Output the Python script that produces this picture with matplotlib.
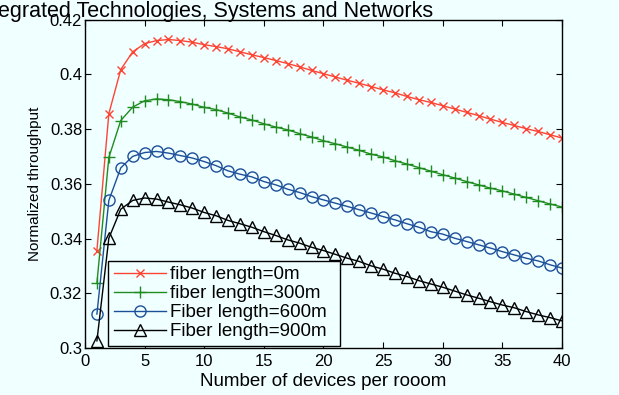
import matplotlib
matplotlib.use('Agg')
import matplotlib.pyplot as plt
from matplotlib.ticker import FuncFormatter

# devices per room
devices = list(range(1, 41))

# normalized throughput per fiber length
fiber_0m = [0.3356, 0.3856, 0.4017, 0.4082, 0.4112, 0.4123, 0.4127, 0.4123, 0.4117, 0.4108,
            0.4101, 0.4093, 0.4082, 0.4071, 0.4061, 0.4050, 0.4039, 0.4027, 0.4014, 0.4002,
            0.3990, 0.3978, 0.3967, 0.3955, 0.3943, 0.3932, 0.3919, 0.3907, 0.3897, 0.3885,
            0.3873, 0.3861, 0.3849, 0.3836, 0.3824, 0.3813, 0.3801, 0.3791, 0.3779, 0.3767]
fiber_300m = [0.3237, 0.3696, 0.3831, 0.3880, 0.3903, 0.3910, 0.3907, 0.3900, 0.3891, 0.3879,
              0.3871, 0.3858, 0.3844, 0.3833, 0.3819, 0.3807, 0.3797, 0.3783, 0.3771, 0.3757,
              0.3746, 0.3734, 0.3722, 0.3708, 0.3698, 0.3684, 0.3672, 0.3659, 0.3646, 0.3633,
              0.3621, 0.3608, 0.3596, 0.3584, 0.3574, 0.3562, 0.3550, 0.3538, 0.3526, 0.3515]
fiber_600m = [0.3124, 0.3539, 0.3658, 0.3700, 0.3714, 0.3718, 0.3712, 0.3703, 0.3694, 0.3681,
              0.3666, 0.3647, 0.3635, 0.3625, 0.3608, 0.3596, 0.3580, 0.3568, 0.3553, 0.3541,
              0.3529, 0.3517, 0.3505, 0.3493, 0.3480, 0.3468, 0.3454, 0.3441, 0.3425, 0.3416,
              0.3401, 0.3389, 0.3377, 0.3365, 0.3352, 0.3340, 0.3328, 0.3318, 0.3304, 0.3292]
fiber_900m = [0.3026, 0.3401, 0.3507, 0.3539, 0.3548, 0.3544, 0.3533, 0.3523, 0.3511, 0.3495,
              0.3483, 0.3466, 0.3454, 0.3441, 0.3425, 0.3411, 0.3395, 0.3383, 0.3368, 0.3356,
              0.3342, 0.3328, 0.3316, 0.3300, 0.3288, 0.3273, 0.3261, 0.3246, 0.3234, 0.3222,
              0.3208, 0.3194, 0.3182, 0.3169, 0.3157, 0.3147, 0.3133, 0.3121, 0.3111, 0.3099]

labels = ['fiber length=0m', 'fiber length=300m', 'Fiber length=600m', 'Fiber length=900m']
x_ticks = [0, 5, 10, 15, 20, 25, 30, 35, 40]
y_ticks = [0.30, 0.32, 0.34, 0.36, 0.38, 0.40, 0.42]

bg = '#f0ffff'
plt.rcParams['font.family'] = ['Liberation Sans', 'DejaVu Sans']

fig = plt.figure(figsize=(6.19, 3.95), dpi=100, facecolor=bg)
ax = fig.add_axes([0.1373, 0.119, 0.7706, 0.8316])
ax.set_facecolor(bg)

series = [fiber_0m, fiber_300m, fiber_600m, fiber_900m]
colors = ['#ff4433', '#1f8c1f', '#1c4f9a', '#000000']
markers = ['x', '+', 'o', '^']
sizes = [6, 8, 8, 8.5]
for s, c, m, ms, lab in zip(series, colors, markers, sizes, labels):
    ax.plot(devices, s, color=c, marker=m, markersize=ms, markerfacecolor='none',
            markeredgewidth=1.0, linewidth=1.0, label=lab)

ax.set_xlim(0, 40)
ax.set_ylim(0.3, 0.42)
ax.set_xticks(x_ticks)
ax.set_yticks(y_ticks)
ax.yaxis.set_major_formatter(FuncFormatter(lambda v, p: '%g' % round(v, 2)))
ax.tick_params(direction='in', length=4, width=0.8, top=True, right=True,
               labelsize=12, pad=2)
ax.tick_params(axis='x', pad=4)

for sp in ax.spines.values():
    sp.set_linewidth(1.0)

ax.set_xlabel('Number of devices per rooom', fontsize=13.5, labelpad=3)
ax.set_ylabel('Normalized throughput', fontsize=11, labelpad=6)

# legend frame stretched to the width seen in the original
leg = ax.legend(loc='lower left', bbox_to_anchor=(0.048, 0.006, 0.487, 0.27),
                mode='expand', borderaxespad=0,
                fontsize=13.5, fancybox=False, framealpha=1, facecolor=bg,
                edgecolor='black', handlelength=2.8, handletextpad=0.2,
                labelspacing=0.1, borderpad=0.3)
leg.get_frame().set_linewidth(1.0)

# clipped journal header behind the figure
fig.text(-0.004, 0.958, 'egrated Technologies, Systems and Networks', fontsize=15.5,
         ha='left', va='baseline', color='black')

fig.savefig('out.png', dpi=100, facecolor=bg)
